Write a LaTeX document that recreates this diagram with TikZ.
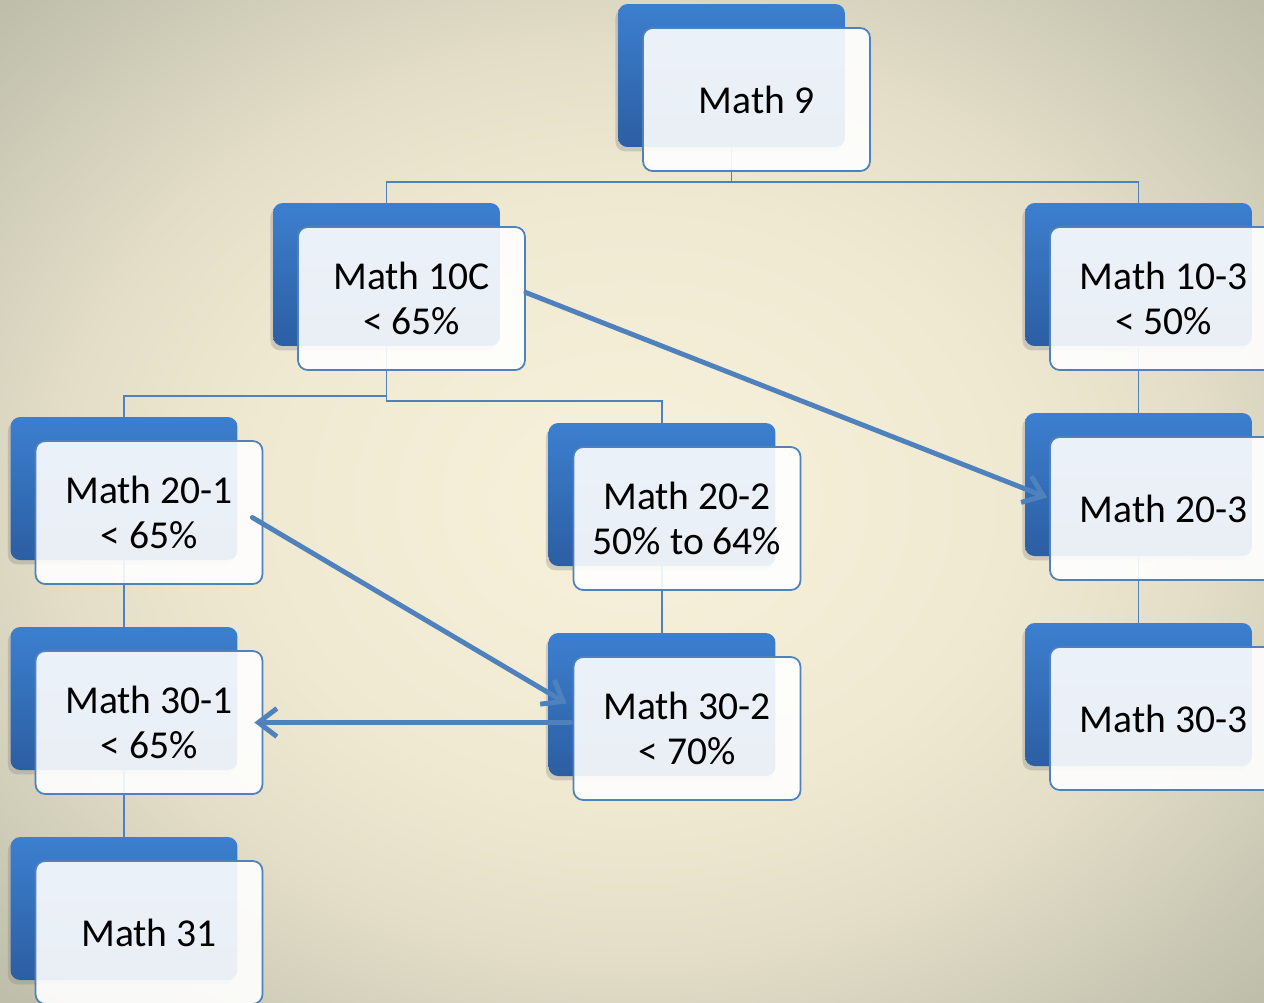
\documentclass[tikz,border=0pt]{standalone}
\usepackage{fontspec}
\setmainfont{Carlito}
\usetikzlibrary{arrows.meta,shadows}
\definecolor{boxtop}{RGB}{60,127,207}
\definecolor{boxbot}{RGB}{44,94,162}
\definecolor{linkblue}{RGB}{79,129,189}
\pgfdeclareradialshading{paper}{\pgfpoint{0bp}{0bp}}{%
  rgb(0bp)=(0.969,0.945,0.859);
  rgb(15bp)=(0.941,0.914,0.824);
  rgb(22.5bp)=(0.894,0.871,0.784);
  rgb(35bp)=(0.745,0.745,0.667);
  rgb(50bp)=(0.725,0.725,0.647)}

\begin{document}
\begin{tikzpicture}[x=0.02cm,y=-0.02cm]
    \tikzstyle{back}=[rectangle, rounded corners=5.5pt, minimum width=4.54cm, minimum height=2.86cm, top color=boxtop, bottom color=boxbot, drop shadow={opacity=0.3, shadow xshift=-1.5pt, shadow yshift=-2.5pt}]
    \tikzstyle{front}=[rectangle, rounded corners=5.5pt, draw=linkblue, line width=1pt, fill=white, fill opacity=0.9, text opacity=1, minimum width=4.54cm, minimum height=2.86cm, inner sep=0pt, align=center, font=\fontsize{22.5}{25.6}\selectfont]
    \tikzstyle{link}=[draw=linkblue, line width=1.1pt]
    \tikzstyle{jump}=[draw=linkblue, line width=2.8pt, line cap=round, -{Straight Barb[length=10.5pt,width=16pt]}]

    \useasboundingbox (0,0) rectangle (1264,1002);
    \clip (0,0) rectangle (1264,1002);
    \shade[shading=paper] (0,0) rectangle (1264,1002);

    % blue cards behind
    \node[back] at (731.5,75.5) (m9b) {};
    \node[back] at (386.5,274.5) (m10cb) {};
    \node[back] at (1138.5,274.5) (m103b) {};
    \node[back] at (124,488.5) (m201b) {};
    \node[back] at (662,494.5) (m202b) {};
    \node[back] at (1138.5,484.5) (m203b) {};
    \node[back] at (124,698.5) (m301b) {};
    \node[back] at (662,704.5) (m302b) {};
    \node[back] at (1138.5,694.5) (m303b) {};
    \node[back] at (124,908.5) (m31b) {};

    % tree lines
    \draw[link] (m9b.south) -- ++(0,35) -| (m10cb.north);
    \draw[link] (m9b.south) -- ++(0,35) -| (m103b.north);
    \draw[link] (m10cb.south) -- ++(0,50) -| (m201b.north);
    \draw[link] (m10cb.south) -- ++(0,55) -| (m202b.north);
    \draw[link] (m103b.south) -- (m203b.north);
    \draw[link] (m201b.south) -- (m301b.north);
    \draw[link] (m202b.south) -- (m302b.north);
    \draw[link] (m203b.south) -- (m303b.north);
    \draw[link] (m301b.south) -- (m31b.north);

    % white cards
    \node[front] at (756.5,99.5) (m9) {Math 9};
    \node[front] at (411.5,298.5) (m10c) {Math 10C\\< 65\%};
    \node[front] at (1163.5,298.5) (m103) {Math 10-3\\< 50\%};
    \node[front] at (149,512.5) (m201) {Math 20-1\\< 65\%};
    \node[front] at (687,518.5) (m202) {Math 20-2\\50\% to 64\%};
    \node[front] at (1163.5,508.5) (m203) {Math 20-3};
    \node[front] at (149,722.5) (m301) {Math 30-1\\< 65\%};
    \node[front] at (687,728.5) (m302) {Math 30-2\\< 70\%};
    \node[front] at (1163.5,718.5) (m303) {Math 30-3};
    \node[front] at (149,932.5) (m31) {Math 31};

    % transfers
    \draw[jump] ([shift={(0,-6)}]m10c.east) -- ([shift={(-2,-11)}]m203.west);
    \draw[jump] ([shift={(-11,5)}]m201.east) -- ([shift={(-6,-25)}]m302.west);
    \draw[jump] ([shift={(-2,-6)}]m302.west) -- ([shift={(-9,0)}]m301.east);
\end{tikzpicture}
\end{document}
